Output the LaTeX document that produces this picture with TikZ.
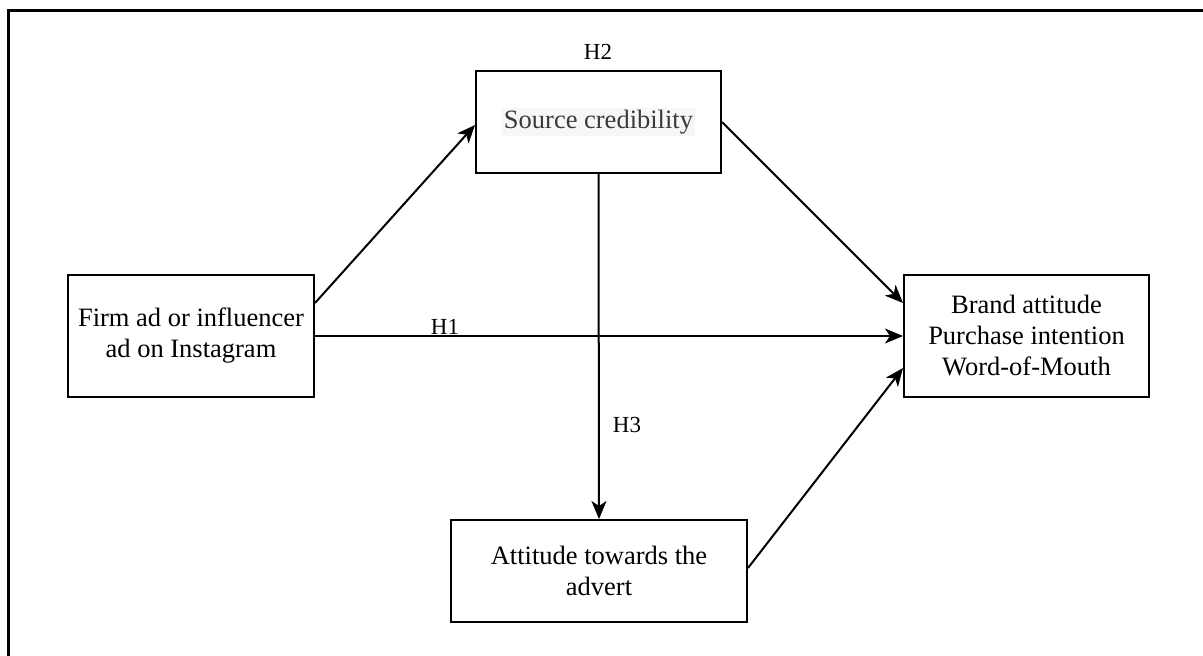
\documentclass[tikz,border=0pt]{standalone}
\usepackage{fontspec}
\setmainfont{Liberation Serif}
\usetikzlibrary{arrows.meta}
\definecolor{hl}{HTML}{F7F7F7}
\definecolor{srctext}{HTML}{3A3A3A}
\begin{document}
\begin{tikzpicture}[x=1pt,y=-1pt,
  box/.style={draw=black,line width=2pt,align=center,inner sep=0pt,
    font=\fontsize{26.5}{31}\selectfont},
  conn/.style={line width=2pt,-{Stealth[length=18pt,width=15pt,inset=5pt]}},
  hlabel/.style={font=\fontsize{23}{26}\selectfont,inner sep=0pt}]
\useasboundingbox (0,0) rectangle (1203,656);
\draw[line width=3pt] (8,656) -- (8,10) -- (1203,10);
\node[box,minimum width=246pt,minimum height=122pt] (firm) at (191,336)
  {Firm ad or influencer\\ad on Instagram};
\node[box,minimum width=245pt,minimum height=102pt] (src) at (598.5,122)
  {{\setlength{\fboxsep}{1.5pt}\colorbox{hl}{\textcolor{srctext}{Source credibility}}}};
\node[box,minimum width=245pt,minimum height=122pt] (brand) at (1026.5,336)
  {Brand attitude\\Purchase intention\\Word-of-Mouth};
\node[box,minimum width=296pt,minimum height=102pt] (att) at (599,571)
  {Attitude towards the\\advert};
\draw[conn] ([yshift=33pt]firm.east) -- ([yshift=-3pt]src.west);
\draw[conn] (src.east) -- ([yshift=33pt]brand.west);
\draw[conn] (firm.east) -- (brand.west);
\draw[conn] (src.south) -- (att.north);
\draw[conn] ([yshift=3pt]att.east) -- ([yshift=-32pt]brand.west);
\node[hlabel] (h2) at (598,52) {H2};
\node[hlabel] (h1) at (445,327) {H1};
\node[hlabel] (h3) at (627,425) {H3};
\end{tikzpicture}
\end{document}
